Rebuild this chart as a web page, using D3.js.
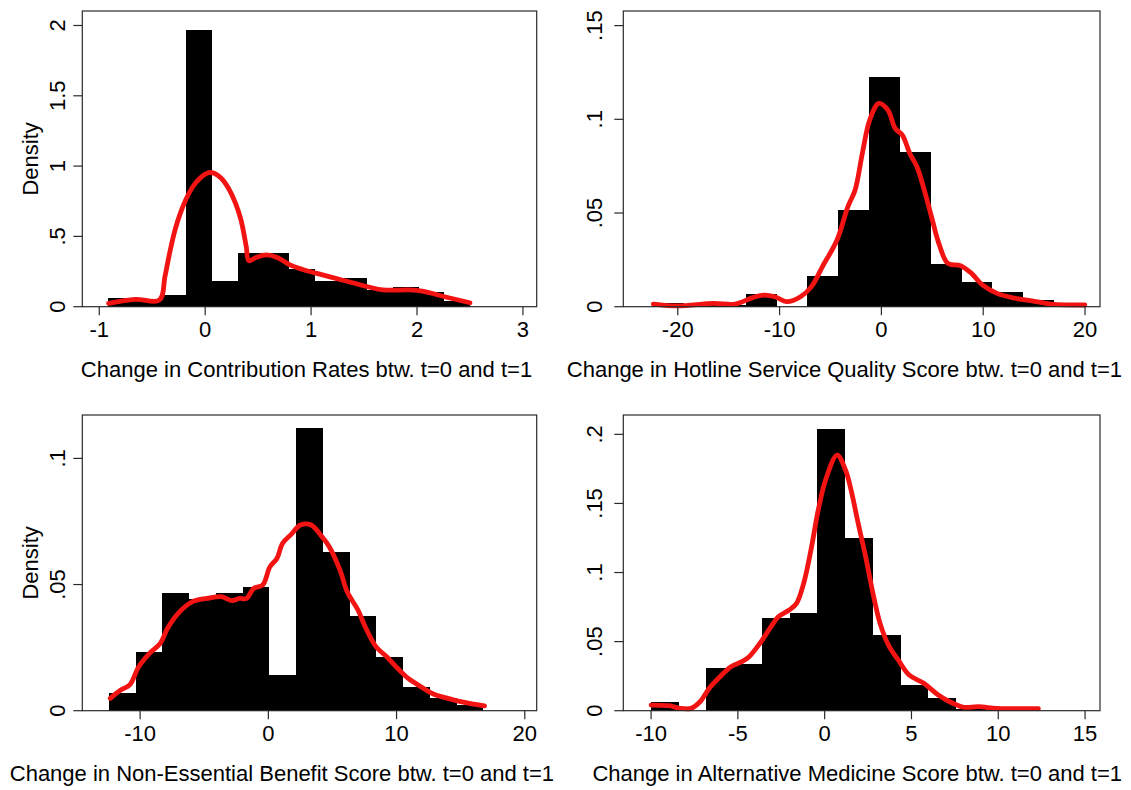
<!DOCTYPE html>
<html>
<head>
<meta charset="utf-8">
<script src="https://cdn.jsdelivr.net/npm/d3@7"></script>
<style>
  body { margin: 0; background: #fff; }
  svg { display: block; }
  text { font-family: "Liberation Sans", Arial, Helvetica, sans-serif; fill: #000; }
</style>
</head>
<body>
<svg id="chart" width="1131" height="790"></svg>
<script>
// ---- Change in contribution rates ----
const contribBinStart = -0.913;
const contribBinWidth = 0.244;
const contribDensity = [0.059, 0.050, 0.083, 1.968, 0.182, 0.384, 0.384, 0.265, 0.182, 0.201, 0.120, 0.142, 0.102, 0.040];
const contribKdeX = [-0.912, -0.66, -0.431, -0.38, -0.336, -0.285, -0.235, -0.184, -0.117, -0.05, 0.035, 0.085, 0.152, 0.22, 0.287, 0.338, 0.388, 0.412, 0.48, 0.58, 0.68, 0.80, 0.92, 1.054, 1.29, 1.535, 1.68, 1.93, 2.05, 2.26, 2.50];
const contribKdeY = [0.024, 0.052, 0.048, 0.213, 0.380, 0.545, 0.664, 0.759, 0.853, 0.913, 0.953, 0.949, 0.913, 0.842, 0.735, 0.617, 0.427, 0.327, 0.350, 0.368, 0.350, 0.297, 0.265, 0.237, 0.190, 0.142, 0.119, 0.119, 0.110, 0.071, 0.028];
const contribXTicks = [-1, 0, 1, 2, 3];
const contribYTicks = [0, 0.5, 1, 1.5, 2];

// ---- Change in hotline service quality score ----
const hotlineBinStart = -22.4;
const hotlineBinWidth = 3.027;
const hotlineDensity = [0.0018, 0.0009, 0.0009, 0.0066, 0, 0.0164, 0.0518, 0.1226, 0.0824, 0.0228, 0.0130, 0.0080, 0.0036, 0.0018];
const hotlineKdeX = [-22.4, -20.0, -16.5, -14.37, -12.57, -11.5, -10.45, -9.3, -7.94, -6.87, -5.8, -4.36, -3.29, -2.58, -1.87, -1.15, -0.26, 0.64, 1.35, 2.06, 2.78, 3.49, 4.21, 4.92, 5.64, 6.53, 7.78, 8.85, 9.92, 11.36, 13.13, 14.92, 16.71, 19.98];
const hotlineKdeY = [0.0014, 0.0004, 0.0018, 0.0014, 0.0050, 0.0062, 0.0053, 0.0027, 0.0053, 0.0107, 0.0213, 0.0356, 0.0534, 0.0623, 0.0819, 0.0996, 0.1085, 0.1050, 0.0952, 0.0916, 0.0819, 0.0747, 0.0623, 0.0480, 0.0338, 0.0231, 0.0219, 0.0178, 0.0116, 0.0071, 0.0045, 0.0030, 0.0014, 0.0009];
const hotlineXTicks = [-20, -10, 0, 10, 20];
const hotlineYTicks = [0, 0.05, 0.1, 0.15];

// ---- Change in non-essential benefit score ----
const benefitBinStart = -12.43;
const benefitBinWidth = 2.086;
const benefitDensity = [0.0070, 0.0234, 0.0468, 0.0441, 0.0468, 0.0490, 0.0140, 0.1119, 0.0629, 0.0374, 0.0212, 0.0095, 0.0049, 0.0024];
const benefitKdeX = [-12.33, -11.51, -10.81, -10.11, -9.27, -8.43, -7.87, -7.03, -5.91, -4.79, -3.67, -2.82, -2.26, -1.70, -1.14, -0.44, 0.12, 0.68, 1.10, 1.80, 2.50, 3.34, 4.19, 4.75, 5.59, 6.15, 6.99, 7.55, 8.39, 9.23, 10.08, 10.91, 11.9, 12.87, 14.28, 15.4, 16.86];
const benefitKdeY = [0.0049, 0.0082, 0.0102, 0.0174, 0.0227, 0.0267, 0.0326, 0.0386, 0.0432, 0.0445, 0.0452, 0.0436, 0.0445, 0.0445, 0.0485, 0.0498, 0.0570, 0.0604, 0.0663, 0.0700, 0.0736, 0.0736, 0.0689, 0.0650, 0.0557, 0.0471, 0.0399, 0.0333, 0.0254, 0.0214, 0.0168, 0.0128, 0.0095, 0.0066, 0.0045, 0.0032, 0.0019];
const benefitXTicks = [-10, 0, 10, 20];
const benefitYTicks = [0, 0.05, 0.1];

// ---- Change in alternative medicine score ----
const medicineBinStart = -10.02;
const medicineBinWidth = 1.6;
const medicineDensity = [0.0061, 0, 0.0307, 0.0338, 0.0671, 0.0705, 0.2040, 0.1250, 0.0548, 0.0186, 0.0094, 0.0015, 0.0015, 0.0015];
const medicineKdeX = [-10.0, -8.96, -8.33, -7.70, -7.18, -6.65, -6.03, -5.40, -4.77, -4.35, -3.73, -3.09, -2.67, -2.04, -1.62, -1.21, -0.79, -0.37, 0.05, 0.72, 1.2, 1.52, 1.93, 2.36, 2.78, 3.19, 3.72, 4.24, 4.87, 5.71, 6.54, 7.38, 8.01, 8.85, 9.90, 10.95, 12.31];
const medicineKdeY = [0.0041, 0.0036, 0.0017, 0.0017, 0.0065, 0.0162, 0.0246, 0.0318, 0.0355, 0.0391, 0.0488, 0.0608, 0.0680, 0.0729, 0.0777, 0.0922, 0.1163, 0.1452, 0.1669, 0.1850, 0.1742, 0.1597, 0.1356, 0.1114, 0.0850, 0.0632, 0.0463, 0.0367, 0.0258, 0.0198, 0.0114, 0.0054, 0.0025, 0.0029, 0.0017, 0.0015, 0.0015];
const medicineXTicks = [-10, -5, 0, 5, 10, 15];
const medicineYTicks = [0, 0.05, 0.1, 0.15, 0.2];

const xTitles = [
  "Change in Contribution Rates btw. t=0 and t=1",
  "Change in Hotline Service Quality Score btw. t=0 and t=1",
  "Change in Non-Essential Benefit Score btw. t=0 and t=1",
  "Change in Alternative Medicine Score btw. t=0 and t=1"
];
const yTitle = "Density";

// ---- layout ----
const cols = [
  { x0: 82.3, x1: 536.7, labelX: 65, titleLimit: 554 },
  { x0: 623.3, x1: 1100, labelX: 602, titleLimit: 1122 }
];
const rows = [{ y0: 11, y1: 306.7 }, { y0: 415, y1: 710.7 }];

const panels = [
  { col: 0, row: 0, start: contribBinStart, width: contribBinWidth, dens: contribDensity,
    kx: contribKdeX, ky: contribKdeY, xt: contribXTicks, yt: contribYTicks,
    xDom: [-1.16, 3.13], yDom: [0, 2.103], title: xTitles[0], yLab: true },
  { col: 1, row: 0, start: hotlineBinStart, width: hotlineBinWidth, dens: hotlineDensity,
    kx: hotlineKdeX, ky: hotlineKdeY, xt: hotlineXTicks, yt: hotlineYTicks,
    xDom: [-25.35, 21.47], yDom: [0, 0.1578], title: xTitles[1], yLab: false },
  { col: 0, row: 1, start: benefitBinStart, width: benefitBinWidth, dens: benefitDensity,
    kx: benefitKdeX, ky: benefitKdeY, xt: benefitXTicks, yt: benefitYTicks,
    xDom: [-14.51, 20.93], yDom: [0, 0.1172], title: xTitles[2], yLab: true },
  { col: 1, row: 1, start: medicineBinStart, width: medicineBinWidth, dens: medicineDensity,
    kx: medicineKdeX, ky: medicineKdeY, xt: medicineXTicks, yt: medicineYTicks,
    xDom: [-11.6, 15.86], yDom: [0, 0.214], title: xTitles[3], yLab: false }
];

// Stata-style labels: no leading zero, plain hyphen for negatives
const fmt = v => {
  let s = String(+v.toFixed(4));
  return s.replace(/^0\./, ".").replace(/^-0\./, "-.");
};

const svg = d3.select("#chart");
svg.append("rect").attr("width", 1131).attr("height", 790).attr("fill", "#fff");

const FS = 22;
const axisColor = "#2a2a2a";

panels.forEach(p => {
  const c = cols[p.col], r = rows[p.row];
  const x = d3.scaleLinear().domain(p.xDom).range([c.x0, c.x1]);
  const y = d3.scaleLinear().domain(p.yDom).range([r.y1, r.y0]);
  const g = svg.append("g");

  // histogram bars (crisp edges so adjacent bars merge into one black block)
  const bins = p.dens.map((d, i) => ({ lo: p.start + i * p.width, hi: p.start + (i + 1) * p.width, d }));
  g.selectAll("rect.bar").data(bins.filter(b => b.d > 0)).join("rect")
    .attr("class", "bar")
    .attr("x", b => x(b.lo))
    .attr("width", b => x(b.hi) - x(b.lo))
    .attr("y", b => y(b.d))
    .attr("height", b => y(0) - y(b.d))
    .attr("fill", "#000")
    .attr("shape-rendering", "crispEdges");

  // kernel density curve
  const pts = p.kx.map((v, i) => [v, p.ky[i]]);
  g.append("path")
    .attr("d", d3.line().x(d => x(d[0])).y(d => y(d[1])).curve(d3.curveCatmullRom.alpha(0.5))(pts))
    .attr("fill", "none")
    .attr("stroke", "#f21313")
    .attr("stroke-width", 4.8)
    .attr("stroke-linejoin", "round")
    .attr("stroke-linecap", "round");

  // plot frame
  g.append("rect")
    .attr("x", c.x0).attr("y", r.y0)
    .attr("width", c.x1 - c.x0).attr("height", r.y1 - r.y0)
    .attr("fill", "none").attr("stroke", axisColor).attr("stroke-width", 1.2);

  // x axis ticks and labels
  const xa = g.append("g");
  xa.selectAll("line").data(p.xt).join("line")
    .attr("x1", d => x(d)).attr("x2", d => x(d))
    .attr("y1", r.y1).attr("y2", r.y1 + 8.5)
    .attr("stroke", axisColor).attr("stroke-width", 1.2);
  xa.selectAll("text").data(p.xt).join("text")
    .attr("x", d => x(d)).attr("y", r.y1 + 30)
    .attr("text-anchor", "middle").attr("font-size", FS)
    .text(fmt);

  // y axis ticks and rotated labels
  const ya = g.append("g");
  ya.selectAll("line").data(p.yt).join("line")
    .attr("x1", c.x0 - 9).attr("x2", c.x0)
    .attr("y1", d => y(d)).attr("y2", d => y(d))
    .attr("stroke", axisColor).attr("stroke-width", 1.2);
  ya.selectAll("text").data(p.yt).join("text")
    .attr("transform", d => `translate(${c.labelX},${y(d)}) rotate(-90)`)
    .attr("text-anchor", "middle").attr("font-size", FS)
    .text(fmt);

  if (p.yLab) {
    g.append("text")
      .attr("transform", `translate(38,${(r.y0 + r.y1) / 2}) rotate(-90)`)
      .attr("text-anchor", "middle").attr("font-size", FS)
      .text(yTitle);
  }

  // x title: centred under the plot, kept inside the panel's right edge
  const t = g.append("text")
    .attr("y", r.y1 + 70).attr("font-size", FS)
    .attr("text-anchor", "middle")
    .text(p.title);
  const w = t.node().getComputedTextLength();
  const cx = (c.x0 + c.x1) / 2 - 3;
  if (cx + w / 2 > c.titleLimit) {
    t.attr("text-anchor", "end").attr("x", c.titleLimit);
  } else {
    t.attr("x", cx);
  }
});
</script>
</body>
</html>
